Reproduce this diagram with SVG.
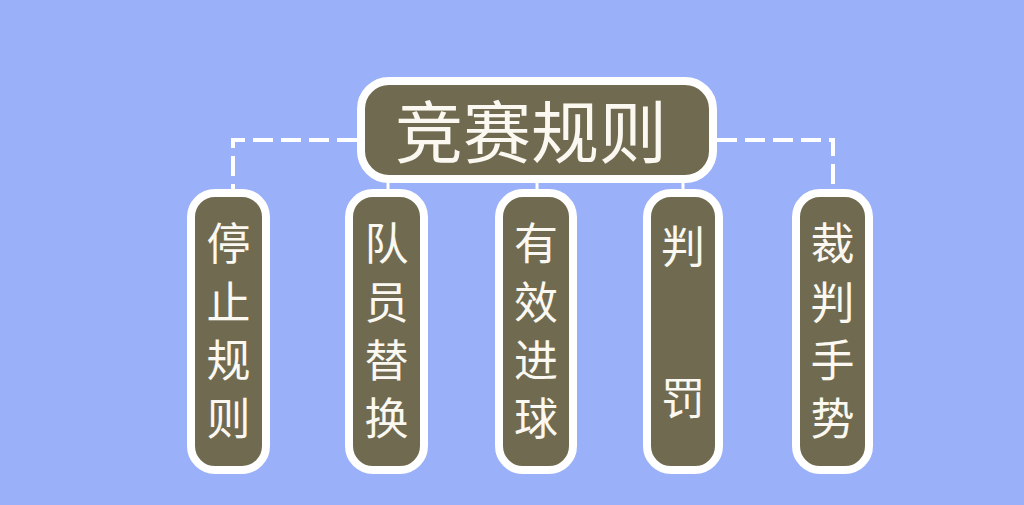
<svg xmlns="http://www.w3.org/2000/svg" width="1024" height="505" viewBox="0 0 1024 505">
<style>
.node{fill:#706B50;stroke:#FFFFFF;stroke-width:8}
.t{fill:#FAF8F0;font-family:"Noto Sans CJK SC","Noto Sans",sans-serif;font-weight:400;text-anchor:middle;dominant-baseline:central}
.ts{font-size:44px}
.dash{fill:none;stroke:#FFFFFF;stroke-width:4;stroke-dasharray:20 8}
.solid{fill:none;stroke:#FFFFFF;stroke-width:3}
</style>
<rect x="0" y="0" width="1024" height="505" fill="#9AB0F9"/>
<g id="connectors">
<path class="dash" d="M357 140 H233 V189"/>
<path class="dash" d="M717 140 H833 V189"/>
<path class="solid" d="M388 182 V190"/>
<path class="solid" d="M537 182 V190"/>
<path class="solid" d="M683 182 V190"/>
</g>
<g id="root">
<rect class="node" x="361" y="81" width="352" height="98" rx="28"/>
<text class="t" x="531" y="128" font-size="68">竞赛规则</text>
</g>
<g id="n1">
<rect class="node" x="191" y="193" width="75" height="277" rx="24"/>
<text class="t ts" x="228.5" y="241">停</text>
<text class="t ts" x="228.5" y="300">止</text>
<text class="t ts" x="228.5" y="358">规</text>
<text class="t ts" x="228.5" y="416">则</text>
</g>
<g id="n2">
<rect class="node" x="349" y="193" width="75" height="277" rx="24"/>
<text class="t ts" x="386.5" y="241">队</text>
<text class="t ts" x="386.5" y="300">员</text>
<text class="t ts" x="386.5" y="358">替</text>
<text class="t ts" x="386.5" y="416">换</text>
</g>
<g id="n3">
<rect class="node" x="499" y="193" width="74" height="277" rx="24"/>
<text class="t ts" x="536" y="241">有</text>
<text class="t ts" x="536" y="300">效</text>
<text class="t ts" x="536" y="358">进</text>
<text class="t ts" x="536" y="416">球</text>
</g>
<g id="n4">
<rect class="node" x="647" y="193" width="72" height="277" rx="24"/>
<text class="t ts" x="683" y="244">判</text>
<text class="t ts" x="683" y="396">罚</text>
</g>
<g id="n5">
<rect class="node" x="796" y="193" width="73" height="277" rx="24"/>
<text class="t ts" x="832.5" y="241">裁</text>
<text class="t ts" x="832.5" y="300">判</text>
<text class="t ts" x="832.5" y="358">手</text>
<text class="t ts" x="832.5" y="416">势</text>
</g>
</svg>
